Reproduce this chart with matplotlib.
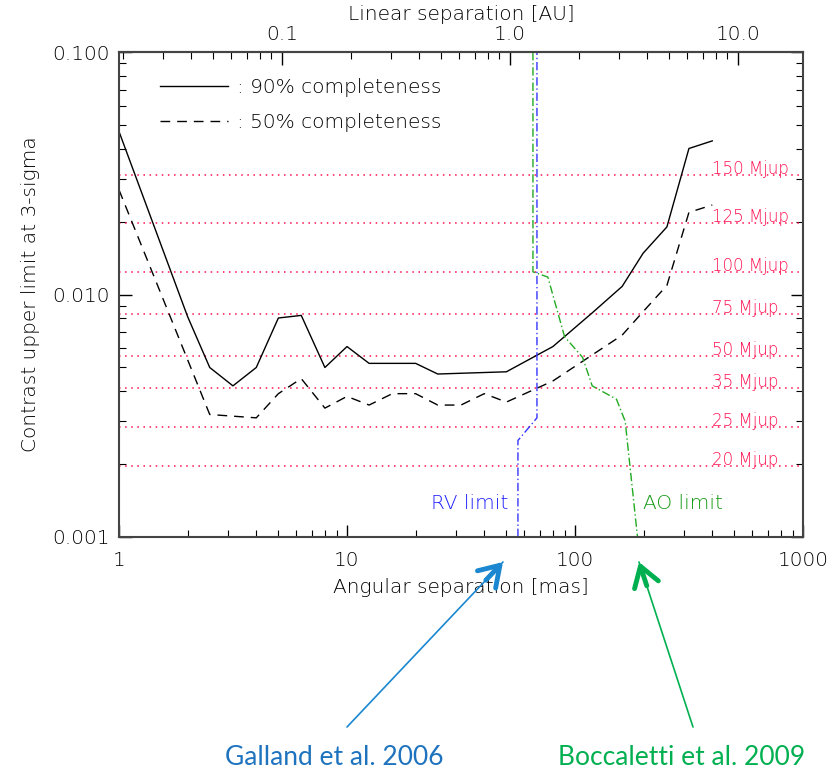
import numpy as np
import matplotlib.pyplot as plt
from matplotlib.ticker import FixedLocator, FuncFormatter, LogLocator, NullFormatter

# contrast curves, angular separation in mas
sep90 = [1, 2, 2.5, 3.16, 4, 5, 6.3, 8, 10, 12.5, 20, 25, 50, 80, 119, 161, 199, 253, 316, 400]
con90 = [0.047, 0.0081, 0.0050, 0.0042, 0.0050, 0.0080, 0.0082, 0.0050, 0.0061, 0.0052,
         0.0052, 0.0047, 0.0048, 0.0061, 0.0084, 0.0108, 0.0148, 0.019, 0.040, 0.043]

sep50 = [1, 2.5, 4, 5, 6.3, 8, 10, 12.5, 15.8, 20, 25, 31.6, 40, 50, 80, 161, 199, 253, 316, 400]
con50 = [0.027, 0.0032, 0.0031, 0.0039, 0.0045, 0.0034, 0.0038, 0.0035, 0.0039, 0.0039,
         0.0035, 0.0035, 0.0039, 0.0036, 0.0044, 0.0068, 0.0085, 0.0109, 0.0218, 0.0234]

# detection limits from other surveys
rv_sep = [56.2, 56.2, 68.1, 68.1]
rv_con = [0.001, 0.0025, 0.0031, 0.1]
ao_sep = [65.4, 65.4, 76, 90, 108, 119, 152, 166, 188]
ao_con = [0.1, 0.0124, 0.0118, 0.0067, 0.0055, 0.0042, 0.0037, 0.0030, 0.001]

# mass limits
mass_con = [0.0311, 0.0197, 0.0124, 0.00832, 0.00557, 0.00411, 0.00285, 0.00196]
mass_lab = ['150 Mjup', '125 Mjup', '100 Mjup', '75 Mjup', '50 Mjup', '35 Mjup', '25 Mjup', '20 Mjup']

dist_pc = 19.3

red = '#ff1050'
plt.rcParams['font.family'] = ['DejaVu Sans']
plt.rcParams['font.weight'] = 'light'
plt.rcParams['axes.labelweight'] = 'light'
fs = 14.5

fig = plt.figure(figsize=(8.4, 7.71), dpi=100)
ax = fig.add_axes([119/840, 1-537/771, 684/840, 485/771])
ax.set_xscale('log')
ax.set_yscale('log')
ax.set_xlim(1, 1000)
ax.set_ylim(0.001, 0.1)

for c, lab in zip(mass_con, mass_lab):
    ax.axhline(c, color=red, lw=1.1, ls=(0, (1, 3)))
    ax.text(400, c*1.01, lab, color=red, fontsize=12, ha='left', va='baseline')

h1, = ax.plot(sep90, con90, color='k', lw=1, label=': 90% completeness')
h2, = ax.plot(sep50, con50, color='k', lw=1, ls=(0, (7, 5)), label=': 50% completeness')
ax.plot(rv_sep, rv_con, color='#3535ff', lw=1, ls=(0, (6, 2, 1, 2)))
ax.plot(ao_sep, ao_con, color='#22aa22', lw=1, ls=(0, (6, 2, 1, 2)))

ax.text(51, 0.00138, 'RV limit', color='#2020ff', fontsize=fs, ha='right', va='center')
ax.text(199, 0.00138, 'AO limit', color='#119911', fontsize=fs, ha='left', va='center')

ax.legend(handles=[h1, h2], loc='upper left', bbox_to_anchor=(41/684, 1-26/485),
          frameon=False, handlelength=3.4, handletextpad=0.4, labelspacing=0.8,
          borderpad=0, borderaxespad=0, fontsize=fs)

ax.tick_params(which='both', direction='in', top=False, right=True, labelsize=fs)
ax.tick_params(which='major', length=9, width=1)
ax.tick_params(which='minor', length=5, width=0.8)
ax.tick_params(axis='x', pad=10)
ax.tick_params(axis='y', pad=6.5)
ax.xaxis.set_major_formatter(FuncFormatter(lambda v, p: '%g' % v))
ax.yaxis.set_major_formatter(FuncFormatter(lambda v, p: '%.3f' % v))
ax.yaxis.set_minor_formatter(NullFormatter())
ax.set_xlabel('Angular separation [mas]', fontsize=fs, labelpad=6)
ax.set_ylabel('Contrast upper limit at 3-sigma', fontsize=fs, labelpad=9)

secax = ax.secondary_xaxis('top', functions=(lambda m: m*dist_pc/1000, lambda a: a*1000/dist_pc))
secax.xaxis.set_major_locator(FixedLocator([0.1, 1, 10]))
secax.xaxis.set_minor_locator(LogLocator(base=10, subs=np.arange(2, 10)))
secax.xaxis.set_major_formatter(FuncFormatter(lambda v, p: '%.1f' % v))
secax.xaxis.set_minor_formatter(NullFormatter())
secax.tick_params(which='both', direction='in', labelsize=fs, pad=6)
secax.tick_params(which='major', length=9, width=1)
secax.tick_params(which='minor', length=5, width=0.8)
secax.set_xlabel('Linear separation [AU]', fontsize=fs, labelpad=3)

for sp in list(ax.spines.values()) + list(secax.spines.values()):
    sp.set_color('#444444')
    sp.set_linewidth(1.5)

# reference arrows under the plot
def ref_arrow(tail, tip, color):
    ax.annotate('', xy=tip, xytext=tail, xycoords='figure pixels', textcoords='figure pixels',
                arrowprops=dict(arrowstyle='-', color=color, lw=1.2, shrinkA=0, shrinkB=0))
    t = np.array(tail, float)
    p = np.array(tip, float)
    back = p + (t - p) / np.linalg.norm(t - p) * 25
    ax.annotate('', xy=tip, xytext=tuple(back), xycoords='figure pixels', textcoords='figure pixels',
                arrowprops=dict(arrowstyle='->,head_length=0.7,head_width=0.45', color=color,
                                lw=3.5, shrinkA=0, shrinkB=0, mutation_scale=20))

ref_arrow((347, 44), (503, 209), '#1a87d0')
ref_arrow((693, 44), (639, 209), '#00b050')
fig.text(334/840, 6/771, 'Galland et al. 2006', ha='center', va='baseline',
         fontsize=19, color='#1e73be', family='Lato', weight='normal')
fig.text(682/840, 6/771, 'Boccaletti et al. 2009', ha='center', va='baseline',
         fontsize=19, color='#00b050', family='Lato', weight='normal')

fig.savefig('out.png', dpi=100)
